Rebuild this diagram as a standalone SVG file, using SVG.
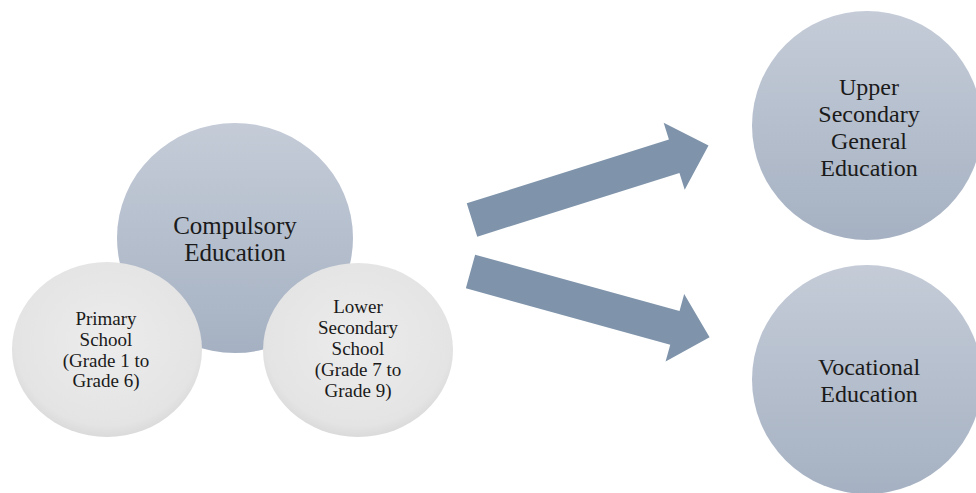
<svg xmlns="http://www.w3.org/2000/svg" width="976" height="493" viewBox="0 0 976 493">
  <defs>
    <linearGradient id="blueGrad" x1="0" y1="0" x2="0" y2="1">
      <stop offset="0" stop-color="#c5ccd8"/>
      <stop offset="1" stop-color="#a5b1c2"/>
    </linearGradient>
    <radialGradient id="grayGrad" cx="0.5" cy="0.45" r="0.55">
      <stop offset="0" stop-color="#ececec"/>
      <stop offset="0.88" stop-color="#e4e4e4"/>
      <stop offset="1" stop-color="#dadada"/>
    </radialGradient>
  </defs>
  <style>
    .blue { fill: url(#blueGrad); }
    .gray { fill: url(#grayGrad); }
    .arrow { fill: #7f94ab; }
    .big { font-family: "Liberation Serif", "DejaVu Serif", serif; font-size: 24px; fill: #1a1a1a; text-anchor: middle; }
    .comp { font-size: 25px; }
    .small { font-family: "Liberation Serif", "DejaVu Serif", serif; font-size: 19px; fill: #1a1a1a; text-anchor: middle; }
  </style>
  <rect width="976" height="493" fill="#ffffff"/>

  <g id="compulsory">
    <ellipse class="blue" cx="235" cy="238" rx="118" ry="115"/>
    <text class="big comp" x="235" y="234">Compulsory</text>
    <text class="big comp" x="235" y="261">Education</text>
  </g>

  <g id="primary">
    <ellipse class="gray" cx="107" cy="349.5" rx="95" ry="87.5"/>
    <text class="small" x="106" y="325">Primary</text>
    <text class="small" x="106" y="346">School</text>
    <text class="small" x="106" y="366.5">(Grade 1 to</text>
    <text class="small" x="106" y="387">Grade 6)</text>
  </g>

  <g id="lower">
    <ellipse class="gray" cx="358" cy="350" rx="95" ry="87"/>
    <text class="small" x="358" y="313">Lower</text>
    <text class="small" x="358" y="334">Secondary</text>
    <text class="small" x="358" y="355">School</text>
    <text class="small" x="358" y="376">(Grade 7 to</text>
    <text class="small" x="358" y="397">Grade 9)</text>
  </g>

  <g id="upper">
    <ellipse class="blue" cx="867" cy="125.5" rx="115" ry="114.5"/>
    <text class="big" x="869" y="95">Upper</text>
    <text class="big" x="869" y="122">Secondary</text>
    <text class="big" x="869" y="149">General</text>
    <text class="big" x="869" y="176">Education</text>
  </g>

  <g id="vocational">
    <ellipse class="blue" cx="867" cy="379.5" rx="115" ry="114.5"/>
    <text class="big" x="869" y="375">Vocational</text>
    <text class="big" x="869" y="402">Education</text>
  </g>

  <g id="connectors">
    <path class="arrow" transform="translate(472,220) rotate(-17.5)" d="M0,-17.5 L212,-17.5 L212,-35 L248,0 L212,35 L212,17.5 L0,17.5 Z"/>
    <path class="arrow" transform="translate(470.5,271.5) rotate(15.4)" d="M0,-17.5 L212,-17.5 L212,-35 L248,0 L212,35 L212,17.5 L0,17.5 Z"/>
  </g>
</svg>
